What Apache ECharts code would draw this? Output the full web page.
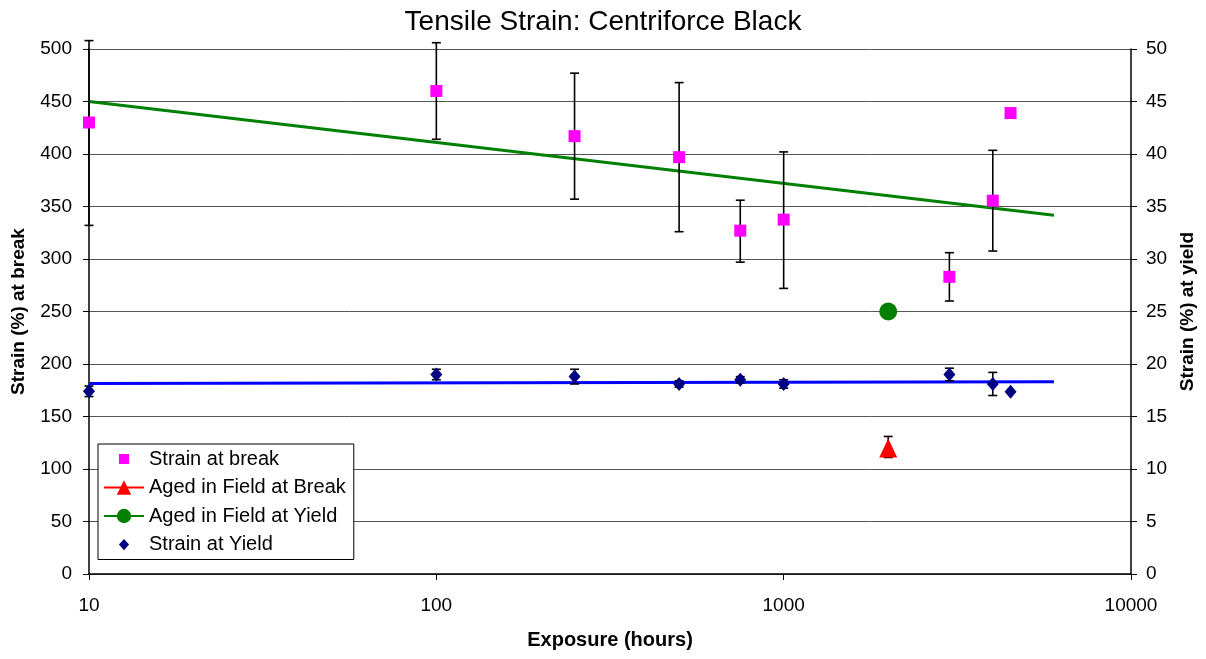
<!DOCTYPE html>
<html>
<head>
<meta charset="utf-8">
<script src="https://cdn.jsdelivr.net/npm/echarts@6/dist/echarts.min.js"></script>
<style>html,body{margin:0;padding:0;background:#fff}#c{width:1206px;height:659px}</style>
</head>
<body>
<div id="c"></div>
<script>
// Exposure hours
const exposure = [10, 100, 250, 500, 750, 1000, 3000, 4000, 4500];
// Strain at break (%) and error bars (left axis)
const breakVals = [430, 460, 417, 397, 327, 337.5, 283, 355.5, 439];
const breakLow  = [332, 414, 357, 326, 297, 272, 260, 307.6, null];
const breakHigh = [508, 506, 477, 468, 356, 402, 306, 403.5, null];
// Strain at yield (%) and error bars (right axis)
const yieldVals = [17.4, 19.0, 18.8, 18.1, 18.5, 18.1, 19.0, 18.1, 17.35];
const yieldLow  = [16.9, 18.5, 18.1, 17.8, 18.2, 17.7, 18.4, 17.0, null];
const yieldHigh = [17.9, 19.5, 19.5, 18.4, 18.8, 18.5, 19.6, 19.2, null];
// Aged in field
const agedX = [2000];
const agedBreak = [120];
const agedBreakLow = [111];
const agedBreakHigh = [131];
const agedYield = [25];
// Trend lines (endpoints)
const trendX = [10, 6000];
const breakTrend = [450, 341.6];
const yieldTrend = [18.15, 18.3];
// Axis ticks
const xTicks = [10, 100, 1000, 10000];

const FONT = 'Liberation Sans, Arial, sans-serif';

function pairs(xs, ys) { return xs.map((x, i) => [x, ys[i]]); }
function errData(xs, lo, hi) {
  const out = [];
  xs.forEach((x, i) => { if (lo[i] != null && hi[i] != null) out.push([x, lo[i], hi[i]]); });
  return out;
}
function errRender(params, api) {
  const x = api.value(0);
  const p1 = api.coord([x, api.value(1)]);
  const p2 = api.coord([x, api.value(2)]);
  const w = 4.5;
  const st = { stroke: '#000', lineWidth: 1.6 };
  return {
    type: 'group',
    children: [
      { type: 'line', shape: { x1: p1[0], y1: p1[1], x2: p2[0], y2: p2[1] }, style: st },
      { type: 'line', shape: { x1: p1[0] - w, y1: p1[1], x2: p1[0] + w, y2: p1[1] }, style: st },
      { type: 'line', shape: { x1: p2[0] - w, y1: p2[1], x2: p2[0] + w, y2: p2[1] }, style: st }
    ]
  };
}

const sqIcon = 'path://M0,0L0,0Z M3.5,3.5H12.5V12.5H3.5Z M16,16L16,16Z';
const diaIcon = 'path://M0,0L0,0Z M8,3L12.5,8L8,13L3.5,8Z M16,16L16,16Z';

const chart = echarts.init(document.getElementById('c'), null, { renderer: 'canvas' });
chart.setOption({
  animation: false,
  backgroundColor: '#fff',
  textStyle: { fontFamily: FONT },
  title: {
    text: 'Tensile Strain: Centriforce Black',
    left: 'center', top: 3,
    textStyle: { fontFamily: FONT, fontSize: 28, fontWeight: 'normal', color: '#000' }
  },
  grid: { left: 89, right: 75, top: 49, bottom: 85 },
  legend: {
    orient: 'vertical',
    left: 98, top: 444,
    backgroundColor: '#fff',
    borderColor: '#000', borderWidth: 1, borderRadius: 0,
    padding: [5, 8, 5, 5],
    itemGap: 8.5,
    itemWidth: 40, itemHeight: 18,
    textStyle: { fontFamily: FONT, fontSize: 20, color: '#000' },
    data: [
      { name: 'Strain at break', icon: sqIcon },
      { name: 'Aged in Field at Break' },
      { name: 'Aged in Field at Yield' },
      { name: 'Strain at Yield', icon: diaIcon }
    ]
  },
  xAxis: {
    type: 'log', logBase: 10, min: 10, max: 10000,
    name: 'Exposure (hours)', nameLocation: 'middle', nameGap: 56,
    nameTextStyle: { fontFamily: FONT, fontSize: 20, fontWeight: 'bold', color: '#000' },
    axisLine: { show: true, onZero: false, lineStyle: { color: '#000', width: 1.5 } },
    axisTick: { show: true, length: 6, lineStyle: { color: '#000' } },
    minorTick: { show: false },
    splitLine: { show: false },
    axisLabel: { fontFamily: FONT, fontSize: 19, color: '#000', margin: 22,
      formatter: v => xTicks.includes(Math.round(v)) ? String(Math.round(v)) : '' }
  },
  yAxis: [
    {
      type: 'value', min: 0, max: 500, interval: 50,
      name: 'Strain (%) at break', nameLocation: 'middle', nameGap: 61,
      nameTextStyle: { fontFamily: FONT, fontSize: 19, fontWeight: 'bold', color: '#000' },
      axisLine: { show: true, lineStyle: { color: '#000', width: 1.5 } },
      axisTick: { show: true, length: 6, lineStyle: { color: '#000' } },
      splitLine: { show: true, lineStyle: { color: '#555', width: 1 } },
      axisLabel: { fontFamily: FONT, fontSize: 19, color: '#000', margin: 17 }
    },
    {
      type: 'value', min: 0, max: 50, interval: 5, position: 'right',
      name: 'Strain (%) at yield', nameLocation: 'middle', nameGap: 47,
      nameRotate: 90,
      nameTextStyle: { fontFamily: FONT, fontSize: 19, fontWeight: 'bold', color: '#000' },
      axisLine: { show: true, lineStyle: { color: '#000', width: 1.5 } },
      axisTick: { show: true, length: 6, lineStyle: { color: '#000' } },
      splitLine: { show: false },
      axisLabel: { fontFamily: FONT, fontSize: 19, color: '#000', margin: 15 }
    }
  ],
  series: [
    {
      name: 'breakTrend', type: 'line', yAxisIndex: 0, z: 2,
      data: pairs(trendX, breakTrend), symbol: 'none',
      lineStyle: { color: '#008000', width: 3 }
    },
    {
      name: 'yieldTrend', type: 'line', yAxisIndex: 1, z: 2,
      data: pairs(trendX, yieldTrend), symbol: 'none',
      lineStyle: { color: '#0000FF', width: 3 }
    },
    {
      name: 'breakErr', type: 'custom', yAxisIndex: 0, z: 3, clip: false,
      renderItem: errRender, data: errData(exposure, breakLow, breakHigh),
      encode: { x: 0, y: [1, 2] }
    },
    {
      name: 'yieldErr', type: 'custom', yAxisIndex: 1, z: 3, clip: false,
      renderItem: errRender, data: errData(exposure, yieldLow, yieldHigh),
      encode: { x: 0, y: [1, 2] }
    },
    {
      name: 'agedErr', type: 'custom', yAxisIndex: 0, z: 3, clip: false,
      renderItem: errRender, data: errData(agedX, agedBreakLow, agedBreakHigh),
      encode: { x: 0, y: [1, 2] }
    },
    {
      name: 'Strain at break', type: 'scatter', yAxisIndex: 0, z: 5,
      data: pairs(exposure, breakVals), symbol: 'rect', symbolSize: 12,
      itemStyle: { color: '#FF00FF', opacity: 1 }
    },
    {
      name: 'Aged in Field at Break', type: 'line', yAxisIndex: 0, z: 5,
      data: pairs(agedX, agedBreak), symbol: 'triangle', symbolSize: [18, 19],
      showAllSymbol: true,
      itemStyle: { color: '#FF0000' }, lineStyle: { color: '#FF0000', width: 1.5 }
    },
    {
      name: 'Aged in Field at Yield', type: 'line', yAxisIndex: 1, z: 5,
      data: pairs(agedX, agedYield), symbol: 'circle', symbolSize: 18,
      showAllSymbol: true,
      itemStyle: { color: '#008000' }, lineStyle: { color: '#008000', width: 1.5 }
    },
    {
      name: 'Strain at Yield', type: 'scatter', yAxisIndex: 1, z: 5,
      data: pairs(exposure, yieldVals), symbol: 'diamond', symbolSize: [12, 14],
      itemStyle: { color: '#000080', opacity: 1 }
    }
  ]
});
</script>
</body>
</html>
